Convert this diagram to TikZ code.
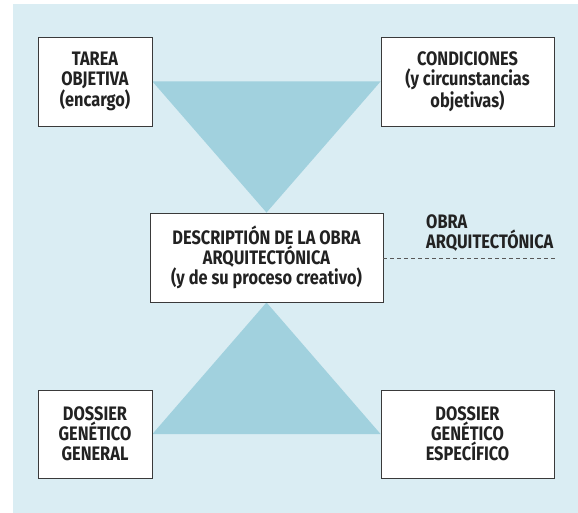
\documentclass[tikz,border=0pt]{standalone}
\usepackage{fontspec}
\setmainfont{Fira Sans}[FakeStretch=0.84]
\usetikzlibrary{backgrounds}
\definecolor{bgblue}{HTML}{DAEDF3}
\definecolor{triblue}{HTML}{A1D1DE}
\definecolor{boxline}{HTML}{3A3A3A}
\definecolor{txt}{HTML}{222222}
\tikzset{
  box/.style={draw=boxline, line width=0.9pt, fill=white, inner sep=0pt,
    align=center, text=txt, font=\fontsize{19.5}{20}\selectfont\bfseries},
  tri/.style={fill=triblue, draw=none},
  dashline/.style={draw=boxline!85, line width=0.8pt, dash pattern=on 4pt off 3pt},
  lbl/.style={align=left, anchor=west, inner sep=0pt, text=txt, font=\fontsize{19.5}{20}\selectfont\bfseries}
}
\begin{document}
\begin{tikzpicture}[x=1pt,y=-1pt]
\useasboundingbox (0,0) rectangle (578,513);
\node[box, minimum width=114pt, minimum height=89pt] (tarea) at (95,81.5) {TAREA\\OBJETIVA\\(encargo)};
\node[box, minimum width=173pt, minimum height=89pt] (cond) at (467.5,81.5) {CONDICIONES\\(y circunstancias\\objetivas)};
\node[box, minimum width=233pt, minimum height=89pt] (desc) at (266.5,257.5) {DESCRIPTIÓN DE LA OBRA\\ARQUITECTÓNICA\\(y de su proceso creativo)};
\node[box, minimum width=114pt, minimum height=88pt] (dg) at (95,434) {DOSSIER\\GENÉTICO\\GENERAL};
\node[box, minimum width=173pt, minimum height=88pt] (de) at (467.5,434) {DOSSIER\\GENÉTICO\\ESPECÍFICO};
\node[lbl] (obra) at (426,233) {OBRA\\ARQUITECTÓNICA};
\coordinate (dashend) at (555,258);
\begin{pgfonlayer}{background}
\fill[bgblue] (13,4) rectangle (578,513);
\fill[tri] (tarea.east) -- (cond.west) -- (desc.north) -- cycle;
\fill[tri] (desc.south) -- (de.west) -- (dg.east) -- cycle;
\end{pgfonlayer}
\draw[dashline] (desc.east |- dashend) -- (dashend);
\end{tikzpicture}
\end{document}
